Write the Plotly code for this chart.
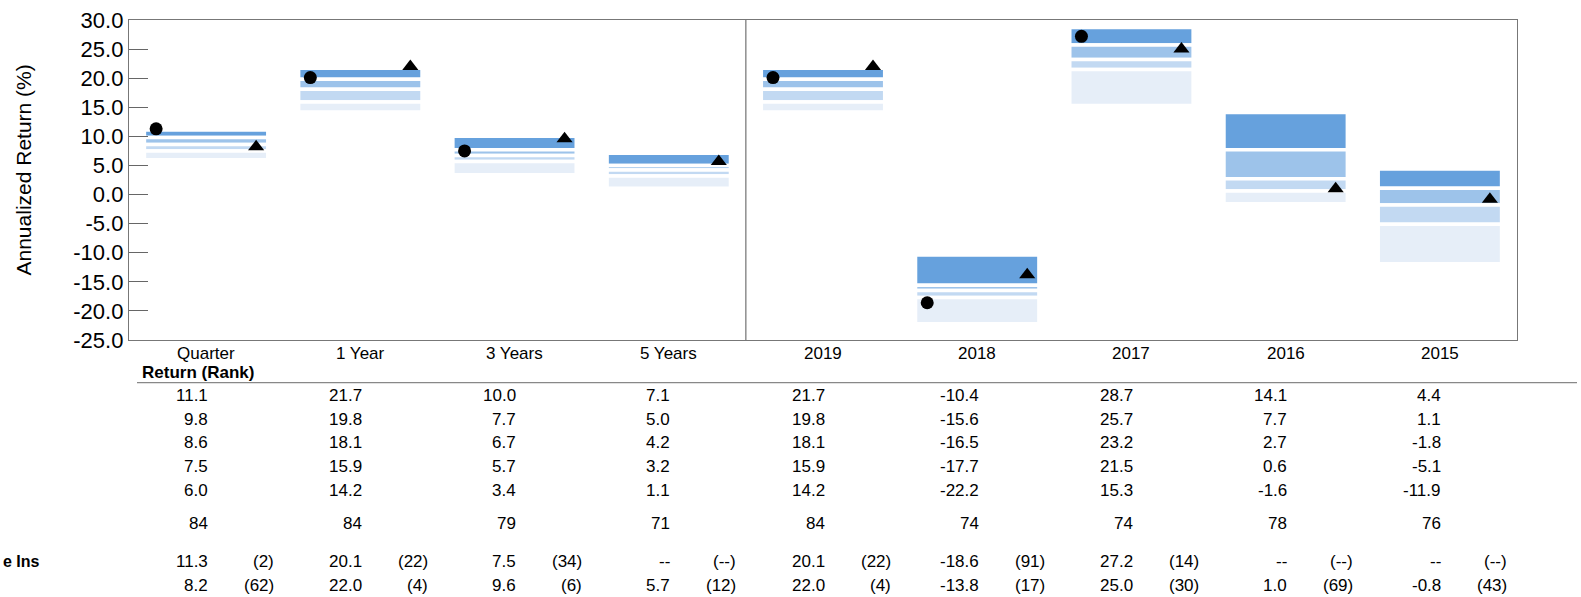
import plotly.graph_objects as go

categories = ["Quarter", "1 Year", "3 Years", "5 Years", "2019", "2018", "2017", "2016", "2015"]
p5 = [11.1, 21.7, 10.0, 7.1, 21.7, -10.4, 28.7, 14.1, 4.4]
p25 = [9.8, 19.8, 7.7, 5.0, 19.8, -15.6, 25.7, 7.7, 1.1]
median = [8.6, 18.1, 6.7, 4.2, 18.1, -16.5, 23.2, 2.7, -1.8]
p75 = [7.5, 15.9, 5.7, 3.2, 15.9, -17.7, 21.5, 0.6, -5.1]
p95 = [6.0, 14.2, 3.4, 1.1, 14.2, -22.2, 15.3, -1.6, -11.9]
population = [84, 84, 79, 71, 84, 74, 74, 78, 76]
fund = [11.3, 20.1, 7.5, None, 20.1, -18.6, 27.2, None, None]
fund_rank = [2, 22, 34, None, 22, 91, 14, None, None]
bench = [8.2, 22.0, 9.6, 5.7, 22.0, -13.8, 25.0, 1.0, -0.8]
bench_rank = [62, 4, 6, 12, 4, 17, 30, 69, 43]
fund_label = "e Ins"
y_ticks = [30, 25, 20, 15, 10, 5, 0, -5, -10, -15, -20, -25]
y_ticktext = ["30.0", "25.0", "20.0", "15.0", "10.0", "5.0", "0.0", "-5.0", "-10.0", "-15.0", "-20.0", "-25.0"]

FONT = "Liberation Sans, Arial, sans-serif"
colors = ["#66a1dd", "#9dc3ea", "#c2d9f2", "#e6eef8"]

W, H = 1581, 597
L, R, T, B = 129, 64, 20, 257
PW = W - L - R
PH = H - T - B
CATW = PW / len(categories)

idx = list(range(len(categories)))

fig = go.Figure()
bounds = [p5, p25, median, p75, p95]
for k in range(4):
    top = bounds[k]
    bot = bounds[k + 1]
    fig.add_trace(go.Bar(
        x=idx, y=[t - b for t, b in zip(top, bot)], base=bot,
        marker=dict(color=colors[k], line=dict(color="white", width=3.5)),
        width=0.8, hoverinfo="skip", showlegend=False))

off = 50 / CATW
fig.add_trace(go.Scatter(
    x=[i - off for i in idx], y=fund, mode="markers",
    marker=dict(symbol="circle", size=13, color="black"), showlegend=False))
fig.add_trace(go.Scatter(
    x=[i + off for i in idx], y=bench, mode="markers",
    marker=dict(symbol="triangle-up", size=14, color="black"), showlegend=False))


def py(p):
    return (T + PH - p) / PH


def px(p):
    return (p - L) / PW


ann = []
tf = dict(family=FONT, size=17, color="black")
for i, c in enumerate(categories):
    ann.append(dict(x=i, y=py(353.3), xref="x", yref="paper", text=c, showarrow=False,
                    xanchor="center", yanchor="middle", font=tf))

ann.append(dict(x=px(140), y=py(372.7), xref="paper", yref="paper", text="<b>Return (Rank)</b>",
                showarrow=False, xanchor="left", yanchor="middle", font=tf))

row_y = [395, 419.3, 442.7, 466, 490]
vx = 3.5 / CATW
rx = 69.5 / CATW
for r, arr in enumerate(bounds):
    for i, v in enumerate(arr):
        ann.append(dict(x=i + vx, y=py(row_y[r]), xref="x", yref="paper", text=f"{v:.1f}",
                        showarrow=False, xanchor="right", yanchor="middle", font=tf))
for i, v in enumerate(population):
    ann.append(dict(x=i + vx, y=py(523.3), xref="x", yref="paper", text=str(v),
                    showarrow=False, xanchor="right", yanchor="middle", font=tf))


def fmt_val(v):
    return "--" if v is None else f"{v:.1f}"


def fmt_rank(v):
    return "(--)" if v is None else f"({v})"


for rowy, vals, ranks in [(561, fund, fund_rank), (585, bench, bench_rank)]:
    for i in idx:
        ann.append(dict(x=i + vx, y=py(rowy), xref="x", yref="paper", text=fmt_val(vals[i]),
                        showarrow=False, xanchor="right", yanchor="middle", font=tf))
        ann.append(dict(x=i + rx, y=py(rowy), xref="x", yref="paper", text=fmt_rank(ranks[i]),
                        showarrow=False, xanchor="right", yanchor="middle", font=tf))

ann.append(dict(x=px(1), y=py(561), xref="paper", yref="paper", text="<b>" + fund_label + "</b>",
                showarrow=False, xanchor="left", yanchor="middle",
                font=dict(family=FONT, size=16, color="black")))

ann.append(dict(x=px(22.5), y=py(170), xref="paper", yref="paper", text="Annualized Return (%)",
                showarrow=False, xanchor="center", yanchor="middle", textangle=-90,
                font=dict(family=FONT, size=21, color="black")))

shapes = [
    dict(type="line", xref="x", yref="paper", x0=3.5, x1=3.5, y0=0, y1=1,
         line=dict(color="#555555", width=1)),
    dict(type="line", xref="paper", yref="paper", x0=px(137), x1=px(1577), y0=py(382.7), y1=py(382.7),
         line=dict(color="#888888", width=1.3)),
]

fig.update_layout(
    width=W, height=H,
    margin=dict(l=L, r=R, t=T, b=B, pad=0, autoexpand=False),
    paper_bgcolor="white", plot_bgcolor="white",
    barmode="overlay", bargap=0.2, showlegend=False,
    annotations=ann, shapes=shapes,
    font=dict(family=FONT, color="black"),
    xaxis=dict(range=[-0.5, len(categories) - 0.5], showticklabels=False, ticks="",
               showgrid=False, zeroline=False, showline=True, mirror=True,
               linecolor="#777777", linewidth=1.3, automargin=False),
    yaxis=dict(range=[-25, 30], tickvals=y_ticks, ticktext=y_ticktext, ticks="inside", ticklen=19,
               tickcolor="#666666", tickwidth=1, showgrid=False, zeroline=False,
               showline=True, mirror=True, linecolor="#777777", linewidth=1.3, automargin=False,
               tickfont=dict(family=FONT, size=22, color="black")),
)

fig.write_html("out.html", config={"displayModeBar": False},
               post_script="document.body.style.margin='0';")
